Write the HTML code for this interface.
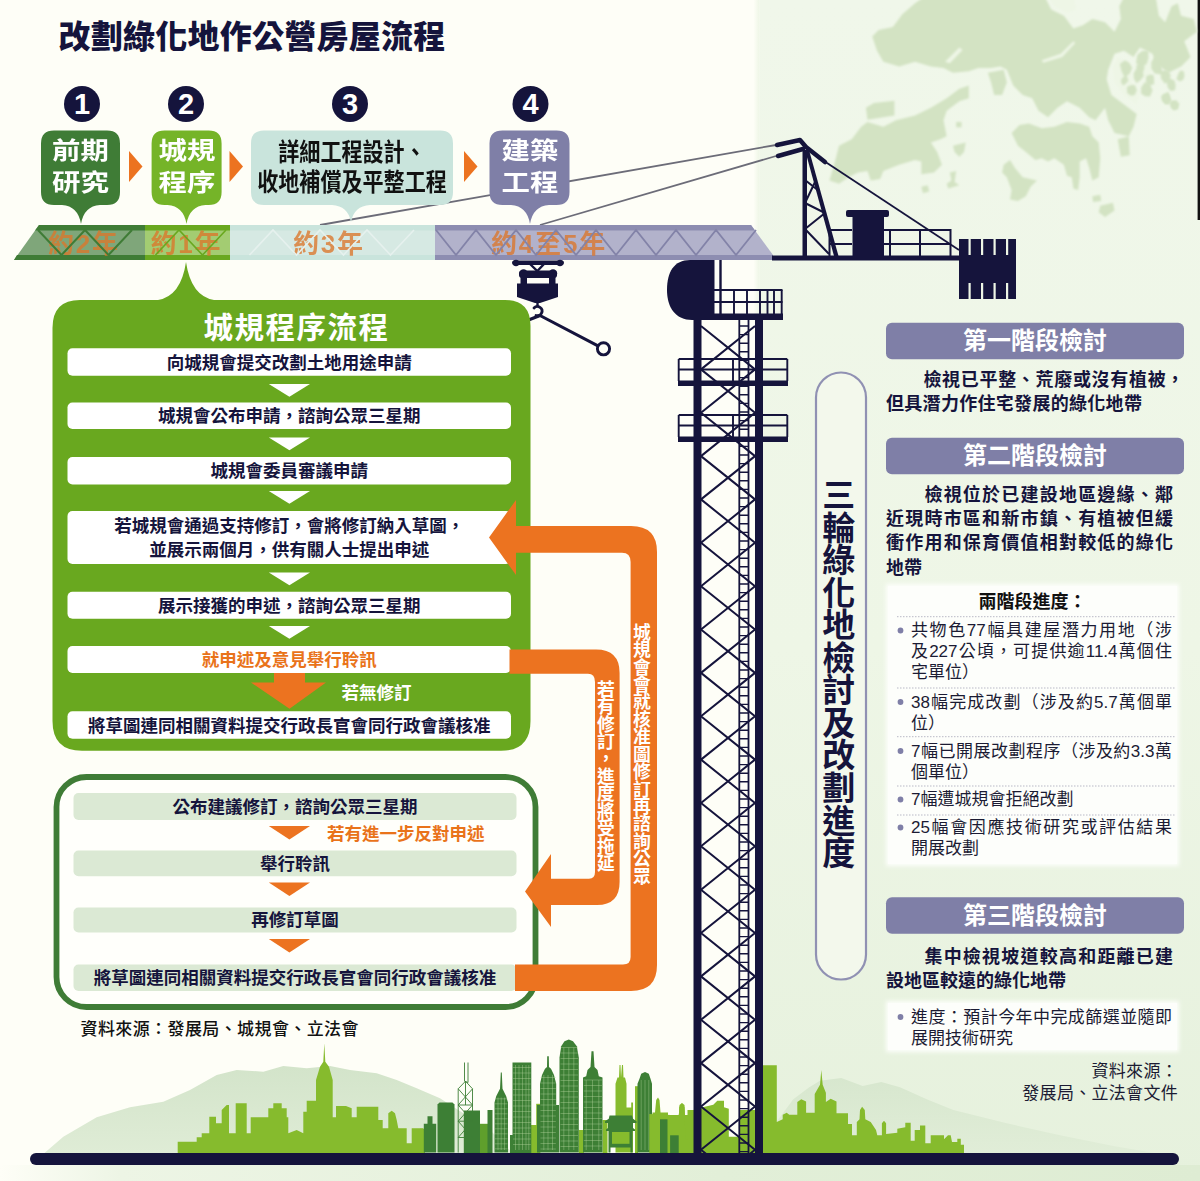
<!DOCTYPE html>
<html lang="zh-Hant">
<head>
<meta charset="utf-8">
<title>改劃綠化地作公營房屋流程</title>
<style>
html,body{margin:0;padding:0;}
body{width:1200px;height:1181px;position:relative;overflow:hidden;background:#fefef7;font-family:"Liberation Sans","Noto Sans CJK TC",sans-serif;color:#15143c;}
svg.g{position:absolute;left:0;top:0;}
.t{position:absolute;white-space:nowrap;line-height:1;}
.b{font-weight:700;}
.c{text-align:center;}

</style>
</head>
<body>
<svg class="g" width="1200" height="1181" viewBox="0 0 1200 1181">
<!-- background -->
<defs><linearGradient id="edgeg" x1="0" x2="1" y1="0" y2="0"><stop offset="0" stop-color="#fefef7"/><stop offset="1" stop-color="#eef6e6"/></linearGradient></defs>
<rect x="753.5" y="0" width="6" height="1181" fill="url(#edgeg)"/>
<defs><linearGradient id="pang" x1="0" x2="0" y1="0" y2="1"><stop offset="0" stop-color="#f0f7ea"/><stop offset="0.55" stop-color="#eef6e6"/><stop offset="1" stop-color="#e6f1dd"/></linearGradient></defs>
<rect x="759.4" y="0" width="441" height="1181" fill="url(#pang)"/>
<defs><linearGradient id="bandg" x1="0" x2="1" y1="0" y2="0"><stop offset="0" stop-color="#fefef7"/><stop offset="0.1" stop-color="#edf5e5"/><stop offset="0.6" stop-color="#e2efd8"/><stop offset="1" stop-color="#deecd3"/></linearGradient></defs>
<rect x="0" y="1165" width="1200" height="16" fill="url(#bandg)"/>
<rect x="1197.6" y="0" width="2.4" height="220" fill="#111"/>
<!-- map -->
<defs><filter id="soft" x="-5%" y="-5%" width="110%" height="110%"><feGaussianBlur stdDeviation="3.5"/></filter></defs>
<g transform="translate(820,0) scale(0.3167)" fill="#d3e3c3" filter="url(#soft)">
<polygon points="165,115 185,95 230,85 260,45 300,10 330,-10 710,-10 730,30 770,50 800,90 830,80 860,60 900,70 930,100 950,60 945,20 960,-10 1060,-10 1070,50 1090,70 1110,20 1130,10 1140,50 1180,60 1190,100 1150,130 1170,180 1140,210 1100,230 1060,200 1050,170 1010,150 990,180 960,160 930,170 910,220 905,250 920,300 960,330 1000,360 990,400 975,430 930,420 910,380 900,340 870,380 850,370 820,340 780,320 750,340 720,370 690,350 670,310 640,300 610,270 590,220 570,210 540,215 500,215 470,225 420,230 390,215 350,210 300,195 250,210 200,195 180,160" />
<polygon points="30,570 50,500 60,460 100,440 130,400 150,385 200,400 240,380 300,365 350,340 400,310 440,280 470,270 470,310 440,320 400,350 390,380 400,430 380,440 350,450 370,480 385,520 360,545 320,550 320,510 300,505 250,520 200,540 190,565 160,570 150,540 120,545 90,560 60,580" />
<polygon points="145,340 170,325 235,318 235,365 150,378" />
<polygon points="605,420 630,395 660,390 700,405 740,400 780,385 820,390 850,400 860,430 880,450 885,500 880,560 860,570 850,530 840,500 820,510 820,560 815,600 800,595 795,560 780,555 770,520 740,500 720,510 700,500 680,505 650,480 625,460" />
<polygon points="580,520 600,505 615,530 640,560 685,570 665,590 650,620 625,635 600,630 605,600 590,560 575,545" />
<polygon points="530,230 580,220 590,260 575,300 550,300 540,260" />
<polygon points="885,650 925,640 930,665 900,685 880,670" />
<polygon points="410,545 430,540 425,575 440,585 405,595 400,580 415,570" />
<polygon points="420,460 460,450 455,480 440,495 425,480" />
<polygon points="430,385 447,385 447,402 430,402" />
<polygon points="940,440 975,430 978,490 950,495" />
<polygon points="320,590 340,585 345,605 325,610" />
<polygon points="860,620 885,615 888,635 862,638" />
<polygon points="1080,300 1100,290 1110,320 1090,330" />
<polygon points="1110,320 1135,325 1130,345 1112,340" />
</g>
<g transform="translate(820,0) scale(0.3167)" fill="#eef6e6" filter="url(#soft)">
<polygon points="395,195 440,150 450,158 410,200" />
<polygon points="700,190 760,170 800,130 806,136 765,180 705,198" />
<polygon points="720,-10 800,-10 810,30 780,40 740,20" />
<polygon points="940,180 975,200 985,260 1010,290 1000,330 960,300 930,260 925,210" />
<polygon points="1000,170 1040,190 1045,230 1020,250 995,220" />
</g>
<g transform="translate(820,0) scale(0.3167)" fill="#d3e3c3" filter="url(#soft)">
<polygon points="986,215 978,232 962,245 952,224 947,202 963,190 977,199" />
<polygon points="1022,240 1011,254 999,263 991,248 990,232 999,217 1017,217" />
<polygon points="1037,185 1031,202 1016,212 998,199 1002,173 1017,161 1037,159" />
<polygon points="1079,206 1080,235 1057,232 1046,216 1046,196 1057,180 1079,178" />
<polygon points="1107,238 1104,258 1088,264 1077,248 1075,227 1089,221 1101,224" />
<polygon points="1123,268 1121,285 1107,287 1098,276 1095,259 1107,249 1119,254" />
<polygon points="1050,286 1042,305 1027,304 1014,296 1014,276 1025,260 1042,266" />
<polygon points="1104,313 1103,331 1090,327 1080,320 1077,304 1090,299 1101,299" />
<polygon points="1128,331 1128,345 1116,349 1107,338 1105,322 1117,317 1128,317" />
<polygon points="1000,285 994,300 982,302 970,294 969,275 982,268 995,269" />
<polygon points="1055,250 1055,266 1042,269 1029,260 1030,241 1042,235 1053,237" />
<polygon points="974,255 966,264 957,270 951,261 951,250 958,243 969,240" />
<polygon points="1151,240 1147,252 1137,257 1125,250 1131,234 1137,223 1149,225" />
<polygon points="1025,215 1019,230 1007,234 1000,221 999,208 1007,201 1020,199" />
</g>
<!-- skyline -->
<defs><linearGradient id="mg" x1="0" x2="0" y1="0" y2="1"><stop offset="0" stop-color="#d3e4ca"/><stop offset="1" stop-color="#dfecd6"/></linearGradient></defs>
<polygon points="43.3,1154.0 63.3,1136.7 96.7,1117.3 130.0,1107.3 163.3,1101.7 190.0,1090.0 216.7,1075.0 236.7,1070.0 263.3,1071.7 283.3,1066.0 306.7,1068.3 330.0,1066.0 350.0,1070.0 376.7,1073.3 396.7,1080.0 416.7,1088.3 440.0,1098.3 463.3,1113.3 490.0,1130.0 513.3,1154.0" fill="url(#mg)"/>
<polygon points="761.3,1153.2 777.3,1120.7 793.3,1099.3 809.3,1087.3 820.0,1080.7 841.3,1078.0 862.7,1086.0 881.3,1082.0 900.0,1087.3 926.7,1099.3 953.3,1110.0 1006.7,1123.3 1060.0,1135.3 1113.3,1146.0 1156.0,1153.2" fill="url(#mg)" opacity=".8"/>
<polygon points="177.7,1154.0 177.7,1141.7 196.7,1141.7 196.7,1137.3 201.7,1137.3 201.7,1133.3 209.3,1133.3 209.3,1116.7 216.0,1116.7 216.0,1123.3 221.7,1123.3 221.7,1110.0 226.7,1105.0 229.0,1105.0 229.0,1133.3 235.7,1133.3 235.7,1103.3 246.7,1103.3 246.7,1133.3 250.7,1133.3 250.7,1117.3 268.3,1117.3 268.3,1108.3 273.3,1108.3 273.3,1103.3 281.7,1103.3 281.7,1108.3 286.7,1108.3 286.7,1117.3 288.3,1117.3 288.3,1133.3 296.7,1130.0 303.3,1133.3 303.3,1111.7 306.7,1111.7 306.7,1100.7 316.0,1100.7 316.0,1080.0 320.0,1066.7 323.3,1061.7 324.3,1043.3 325.3,1061.7 329.0,1066.7 332.7,1080.0 332.7,1117.3 336.0,1117.3 336.0,1106.0 346.0,1106.0 351.7,1108.3 351.7,1117.3 356.7,1117.3 356.7,1106.7 378.3,1106.7 378.3,1120.0 382.7,1120.0 382.7,1128.3 388.3,1128.3 388.3,1113.3 391.7,1110.7 395.0,1113.3 396.7,1120.0 398.3,1128.3 406.7,1128.3 406.7,1143.3 411.7,1143.3 411.7,1128.3 423.3,1128.3 423.3,1154.0" fill="#86bb2d"/>
<rect x="420.0" y="1128.8" width="5.0" height="24.2" fill="#86bb2d"/>
<rect x="480.0" y="1123.8" width="8.0" height="29.2" fill="#5f9f2c"/>
<rect x="530.0" y="1125.0" width="7.0" height="28.0" fill="#86bb2d"/>
<rect x="536.2" y="1103.8" width="4.2" height="49.2" fill="#86bb2d"/>
<rect x="578.8" y="1130.0" width="5.0" height="23.0" fill="#86bb2d"/>
<rect x="602.5" y="1120.0" width="5.0" height="33.0" fill="#86bb2d"/>
<polygon points="615.5,1152.5 615.5,1083.8 617.5,1077.5 619.0,1077.5 619.5,1065.0 620.5,1065.0 621.0,1077.5 622.0,1065.0 623.0,1065.0 623.5,1077.5 625.0,1077.5 626.5,1083.8 626.5,1107.5 631.2,1107.5 631.2,1102.5 633.0,1102.5 633.0,1152.5" fill="#86bb2d"/>
<polygon points="652.5,1152.5 652.5,1112.5 655.0,1112.5 656.2,1100.0 658.0,1097.5 659.5,1100.0 660.5,1112.5 668.0,1112.5 668.0,1115.0 678.8,1115.0 679.5,1105.0 682.0,1103.0 684.5,1105.0 685.0,1115.0 687.5,1115.0 687.5,1110.0 693.0,1110.0 693.0,1152.5" fill="#86bb2d"/>
<rect x="635.0" y="1086.2" width="3.0" height="66.8" fill="#86bb2d"/>
<polygon points="423.8,1152.5 423.8,1123.8 427.5,1123.8 427.5,1116.2 432.5,1116.2 432.5,1123.8 436.2,1123.8 436.2,1152.5" fill="#3d7f35"/>
<polygon points="437.5,1152.5 437.5,1104.5 439.5,1102.5 452.5,1102.5 454.5,1104.5 454.5,1152.5" fill="#3d7f35"/>
<rect x="463.8" y="1110.5" width="16.2" height="42.5" fill="#3d7f35"/>
<rect x="487.5" y="1110.0" width="5.0" height="43.0" fill="#3d7f35"/>
<g stroke="#3d7f35" stroke-width="0.9" fill="none">
<path d="M458.2 1088.8 L458.2 1152.5 M472.5 1088.8 L472.5 1152.5 M458.2 1088.8 L465.5 1081.2 M472.5 1088.8 L465.5 1081.2 M464.5 1081.2 L464.5 1062.5 M468.0 1082.5 L468.0 1062.5 M464.5 1081.2 L468.0 1082.5 M458.2 1088.8 L472.5 1105.0 M472.5 1088.8 L458.2 1105.0 M458.2 1105.0 L472.5 1121.2 M472.5 1105.0 L458.2 1121.2 M458.2 1121.2 L472.5 1137.5 M472.5 1121.2 L458.2 1137.5 M458.2 1105.0 L472.5 1105.0 M458.2 1121.2 L472.5 1121.2 M458.2 1137.5 L472.5 1137.5 M465.5 1081.2 L465.5 1105.0"/>
</g>
<polygon points="494.5,1152.5 494.5,1102.5 496.2,1096.2 500.0,1088.8 500.8,1072.5 501.8,1072.5 502.5,1088.8 506.2,1096.2 508.0,1102.5 508.0,1152.5" fill="#3d7f35"/>
<rect x="512.5" y="1062.5" width="18.8" height="90.5" fill="#3d7f35"/>
<rect x="510.0" y="1135.0" width="3.0" height="18.0" fill="#3d7f35"/>
<polygon points="537.0,1152.5 537.0,1105.0 540.0,1105.0 540.0,1083.8 542.0,1075.0 545.0,1068.8 547.0,1067.0 547.2,1056.2 548.8,1056.2 549.0,1067.0 551.0,1068.8 554.0,1075.0 556.2,1083.8 556.2,1105.0 559.0,1105.0 559.0,1152.5" fill="#3d7f35"/>
<polygon points="559.5,1152.5 559.5,1057.5 561.2,1046.2 564.5,1041.2 568.8,1039.5 573.0,1041.2 576.8,1046.2 578.8,1057.5 578.8,1152.5" fill="#3d7f35"/>
<polygon points="583.0,1152.5 583.0,1077.5 586.2,1076.2 587.5,1070.0 590.5,1067.0 591.5,1051.2 593.5,1051.2 594.5,1067.0 597.5,1070.0 598.8,1076.2 602.5,1077.5 602.5,1152.5" fill="#3d7f35"/>
<polygon points="637.5,1152.5 637.5,1083.8 639.5,1078.8 641.2,1073.8 645.0,1072.0 648.8,1073.8 650.5,1078.8 652.0,1083.8 652.0,1152.5" fill="#3d7f35"/>
<polygon points="605.0,1121.2 608.8,1118.8 609.5,1115.5 632.0,1115.5 633.0,1118.8 636.5,1121.2 636.5,1123.0 633.0,1123.0 633.0,1128.0 635.0,1129.5 635.0,1131.0 632.5,1131.0 632.5,1152.5 630.5,1152.5 630.5,1147.5 610.5,1147.5 610.5,1152.5 608.5,1152.5 608.5,1131.0 606.0,1131.0 606.0,1129.5 608.0,1128.0 608.0,1123.0 605.0,1123.0" fill="#3d7f35"/>
<rect x="612.0" y="1132.0" width="17.5" height="11.8" fill="#86bb2d"/>
<rect x="653.8" y="1118.8" width="13.8" height="34.2" fill="#3d7f35"/>
<rect x="670.0" y="1135.0" width="8.8" height="18.0" fill="#3d7f35"/>
<g stroke="#b9d9a0" stroke-width="0.5" opacity=".75">
<path d="M515.5 1065.0 L515.5 1150.0 M519.0 1065.0 L519.0 1150.0 M522.5 1065.0 L522.5 1150.0 M526.0 1065.0 L526.0 1150.0 M528.8 1065.0 L528.8 1150.0 M513.0 1067.5 L530.8 1067.5 M513.0 1073.0 L530.8 1073.0 M513.0 1078.5 L530.8 1078.5 M513.0 1084.0 L530.8 1084.0 M513.0 1089.5 L530.8 1089.5 M513.0 1095.0 L530.8 1095.0 M513.0 1100.5 L530.8 1100.5 M513.0 1106.0 L530.8 1106.0 M513.0 1111.5 L530.8 1111.5 M513.0 1117.0 L530.8 1117.0 M513.0 1122.5 L530.8 1122.5 M513.0 1128.0 L530.8 1128.0 M513.0 1133.5 L530.8 1133.5 M513.0 1139.0 L530.8 1139.0 M513.0 1144.5 L530.8 1144.5 M563.8 1047.5 L563.8 1150.0 M568.8 1047.5 L568.8 1150.0 M573.8 1047.5 L573.8 1150.0 M560.5 1047.5 L578.0 1047.5 M560.5 1053.0 L578.0 1053.0 M560.5 1058.5 L578.0 1058.5 M560.5 1064.0 L578.0 1064.0 M560.5 1069.5 L578.0 1069.5 M560.5 1075.0 L578.0 1075.0 M560.5 1080.5 L578.0 1080.5 M560.5 1086.0 L578.0 1086.0 M560.5 1091.5 L578.0 1091.5 M560.5 1097.0 L578.0 1097.0 M560.5 1102.5 L578.0 1102.5 M560.5 1108.0 L578.0 1108.0 M560.5 1113.5 L578.0 1113.5 M560.5 1119.0 L578.0 1119.0 M560.5 1124.5 L578.0 1124.5 M560.5 1130.0 L578.0 1130.0 M560.5 1135.5 L578.0 1135.5 M560.5 1141.0 L578.0 1141.0 M560.5 1146.5 L578.0 1146.5 M586.2 1080.0 L586.2 1150.0 M592.5 1080.0 L592.5 1150.0 M598.8 1080.0 L598.8 1150.0 M583.8 1080.0 L602.0 1080.0 M583.8 1085.5 L602.0 1085.5 M583.8 1091.0 L602.0 1091.0 M583.8 1096.5 L602.0 1096.5 M583.8 1102.0 L602.0 1102.0 M583.8 1107.5 L602.0 1107.5 M583.8 1113.0 L602.0 1113.0 M583.8 1118.5 L602.0 1118.5 M583.8 1124.0 L602.0 1124.0 M583.8 1129.5 L602.0 1129.5 M583.8 1135.0 L602.0 1135.0 M583.8 1140.5 L602.0 1140.5 M583.8 1146.0 L602.0 1146.0 M543.8 1075.0 L543.8 1150.0 M548.0 1075.0 L548.0 1150.0 M552.5 1075.0 L552.5 1150.0 M540.5 1077.5 L555.8 1077.5 M540.5 1083.0 L555.8 1083.0 M540.5 1088.5 L555.8 1088.5 M540.5 1094.0 L555.8 1094.0 M540.5 1099.5 L555.8 1099.5 M540.5 1105.0 L555.8 1105.0 M540.5 1110.5 L555.8 1110.5 M540.5 1116.0 L555.8 1116.0 M540.5 1121.5 L555.8 1121.5 M540.5 1127.0 L555.8 1127.0 M540.5 1132.5 L555.8 1132.5 M540.5 1138.0 L555.8 1138.0 M540.5 1143.5 L555.8 1143.5 M540.5 1149.0 L555.8 1149.0 M498.0 1097.5 L498.0 1150.0 M501.2 1097.5 L501.2 1150.0 M504.5 1097.5 L504.5 1150.0 M495.0 1098.8 L507.5 1098.8 M495.0 1103.8 L507.5 1103.8 M495.0 1108.8 L507.5 1108.8 M495.0 1113.8 L507.5 1113.8 M495.0 1118.8 L507.5 1118.8 M495.0 1123.8 L507.5 1123.8 M495.0 1128.8 L507.5 1128.8 M495.0 1133.8 L507.5 1133.8 M495.0 1138.8 L507.5 1138.8 M495.0 1143.8 L507.5 1143.8 M495.0 1148.8 L507.5 1148.8 M641.2 1080.0 L641.2 1150.0 M645.0 1080.0 L645.0 1150.0 M648.8 1080.0 L648.8 1150.0" fill="none"/>
</g>
<polygon points="649.3,1153.7 649.3,1114.0 676.0,1115.3 679.2,1114.8 679.2,1107.3 681.9,1103.3 684.5,1107.3 685.3,1139.3 688.0,1139.3 688.0,1110.0 693.3,1110.0 702.7,1107.3 713.3,1104.7 717.3,1100.7 724.0,1100.7 724.0,1107.3 728.8,1108.7 728.8,1136.7 740.0,1136.7 740.0,1110.0 754.7,1110.0 762.7,1110.0 762.7,1065.2 776.8,1065.2 776.8,1122.0 782.7,1119.3 782.7,1114.8 786.7,1112.7 789.3,1114.8 797.3,1114.8 797.3,1102.0 801.3,1099.3 806.1,1101.5 806.1,1112.7 814.7,1112.7 814.7,1094.0 820.0,1084.7 821.3,1070.0 822.7,1084.7 825.9,1092.7 825.9,1102.0 830.7,1098.8 836.5,1101.5 836.5,1113.2 848.0,1113.2 848.0,1123.9 852.0,1123.9 852.0,1135.3 856.8,1135.3 856.8,1122.0 859.5,1119.3 860.0,1110.0 862.1,1106.8 864.8,1110.0 865.3,1119.3 870.7,1122.0 876.0,1130.0 877.3,1135.3 881.9,1135.3 881.9,1123.3 884.0,1120.7 886.1,1123.3 886.1,1134.0 897.3,1132.7 897.3,1128.7 905.3,1127.3 905.3,1122.8 910.7,1122.8 910.7,1140.7 914.7,1140.7 914.7,1130.0 920.0,1130.0 920.0,1125.5 925.3,1125.5 925.3,1143.3 930.7,1143.3 930.7,1135.3 944.0,1135.3 944.0,1139.3 948.0,1135.3 950.7,1135.3 952.0,1142.0 957.3,1142.0 957.3,1138.8 960.8,1138.8 960.8,1144.7 964.0,1144.7 964.0,1153.7" fill="#86bb2d"/>
<polygon points="660.0,1153.7 660.0,1119.3 667.5,1119.3 667.5,1153.7" fill="#3d7f35"/>
<polygon points="670.1,1153.7 670.1,1135.3 678.7,1135.3 678.7,1153.7" fill="#3d7f35"/>
<!-- crane -->
<g stroke="#6c6c78" stroke-width="1.8" fill="none">
<line x1="320" y1="225" x2="776" y2="145"/>
<line x1="540" y1="225" x2="776" y2="156"/>
</g>
<g>
<polygon points="39,225 145,225 145,260 14,260" fill="#7fa67a"/>
<polygon points="39,225 145,225 145,230.5 35,230.5" fill="#3f7c36"/>
<polygon points="17,255 145,255 145,260 14,260" fill="#3f7c36"/>
<rect x="145" y="225" width="85" height="35" fill="#a3cc72"/>
<rect x="145" y="225" width="85" height="5.5" fill="#69a81f"/>
<rect x="145" y="255" width="85" height="5" fill="#69a81f"/>
<rect x="230" y="225" width="205" height="35" fill="#d6e9e3"/>
<rect x="230" y="225" width="205" height="5.5" fill="#c9e4dc"/>
<rect x="230" y="255" width="205" height="5" fill="#c9e4dc"/>
<polygon points="435,225 751,225 773,255 773,260 435,260" fill="#b2b2cb"/>
<polygon points="435,225 751,225 755,230.5 435,230.5" fill="#8d8db1"/>
<polygon points="435,255 773,255 773,260 435,260" fill="#8d8db1"/>
<text x="84" y="252.8" text-anchor="middle" font-family="Liberation Sans, Noto Sans CJK TC, sans-serif" font-weight="700" font-size="26" letter-spacing="1.8" fill="#dc772b" opacity=".78">約2年</text>
<text x="186.5" y="252.8" text-anchor="middle" font-family="Liberation Sans, Noto Sans CJK TC, sans-serif" font-weight="700" font-size="26" letter-spacing="1.8" fill="#dc772b" opacity=".78">約1年</text>
<text x="329" y="252.8" text-anchor="middle" font-family="Liberation Sans, Noto Sans CJK TC, sans-serif" font-weight="700" font-size="26" letter-spacing="1.8" fill="#dc772b" opacity=".78">約3年</text>
<text x="549" y="252.8" text-anchor="middle" font-family="Liberation Sans, Noto Sans CJK TC, sans-serif" font-weight="700" font-size="26" letter-spacing="1.8" fill="#dc772b" opacity=".78">約4至5年</text>
<polyline points="38.0,230 61.5,255 85.0,230 108.5,255 132.0,230" fill="none" stroke="#3f7c36" stroke-width="2"/>
<polyline points="155.5,255 179.0,230 202.5,255 226.0,230" fill="none" stroke="#69a81f" stroke-width="1.6"/>
<polyline points="249.5,255 273.0,230 296.5,255 320.0,230 343.5,255 367.0,230 390.5,255 414.0,230" fill="none" stroke="#e6f1ee" stroke-width="1.6"/>
<polyline points="436.0,230 456.0,255 476.0,230 496.0,255 516.0,230 536.0,255 556.0,230 576.0,255 596.0,230 616.0,255 636.0,230 656.0,255 676.0,230 696.0,255 716.0,230 736.0,255 756.0,230" fill="none" stroke="#8383a8" stroke-width="1.8"/>
</g>
<g fill="#15143c" stroke="none">
<rect x="772" y="255.5" width="188" height="5"/>
<rect x="802.5" y="150" width="4.5" height="107"/>
<polygon points="805,150 809,150 838.5,256 834,256"/>
<rect x="852.5" y="214" width="31.5" height="43"/>
<path d="M848 210 h39 a2 2 0 0 1 2 2 v3 a2 2 0 0 1 -2 2 h-39 a2 2 0 0 1 -2 -2 v-3 a2 2 0 0 1 2 -2z"/>
<rect x="959" y="239" width="57" height="60"/>
</g>
<g fill="#eef6e6">
<rect x="968.5" y="238" width="2.2" height="17"/>
<rect x="968.5" y="283" width="2.2" height="17"/>
<rect x="981" y="238" width="2.2" height="17"/>
<rect x="981" y="283" width="2.2" height="17"/>
<rect x="993.5" y="238" width="2.2" height="17"/>
<rect x="993.5" y="283" width="2.2" height="17"/>
<rect x="1006" y="238" width="2.2" height="17"/>
<rect x="1006" y="283" width="2.2" height="17"/>
</g>
<g stroke="#15143c" fill="none">
<path d="M805 180 L819 191 M805 203 L825 213 M805 203 L816 180 M805 229 L825 213 M805 229 L829 254 " stroke-width="2"/>
<path d="M829 230 H852 M884 230 H951 M829 244 H852 M884 244 H951" stroke-width="2"/>
<path d="M829.5 230 V256 M890 230 V256 M920 230 V256 M950.5 229 V256" stroke-width="2"/>
<line x1="824" y1="161" x2="959" y2="250" stroke-width="1.8"/>
<path d="M777 145 L800 140 L806 147 L825 162" stroke-width="4.5" stroke-linejoin="round" stroke-linecap="round"/>
<path d="M778 156 L803 149" stroke-width="4.5" stroke-linecap="round"/>
</g>
<g fill="#15143c">
<path d="M714.5 260 H690 C674 260 667 272 667 290 C667 308 676 320 692 320 H714.5 Z"/>
<rect x="714" y="313.5" width="69" height="6.5"/>
</g>
<g stroke="#15143c" fill="none" stroke-width="1.9">
<path d="M720.5 260 V314" stroke-width="2.4"/>
<path d="M714 290 H782.5 M714 302 H782.5"/>
<path d="M734 290 V314 M747 290 V314 M760 290 V314 M767.5 290 V314 M774 290 V314 M781.7 290 V314"/>
</g>
<g fill="#15143c">
<rect x="693.5" y="318" width="8" height="842"/>
<rect x="755" y="318" width="8" height="842"/>
<rect x="678" y="380.5" width="110" height="5.5"/>
<rect x="678" y="436.5" width="110" height="5.5"/>
</g>
<g stroke="#15143c" fill="none" stroke-width="1.9">
<path d="M678.7 359 H787.3 M678.7 369.5 H787.3 M678.7 359 V381 M787.3 359 V381 M733 359 V381"/>
<path d="M678.7 415 H787.3 M678.7 425.5 H787.3 M678.7 415 V437 M787.3 415 V437 M733 415 V437"/>
</g>
<g stroke="#15143c" fill="none" stroke-width="2">
<path d="M701 326.0 L755.0 369.4 M755 326.0 L701.0 369.4 M701 369.4 L755.0 412.7 M755 369.4 L701.0 412.7 M701 412.7 L755.0 456.1 M755 412.7 L701.0 456.1 M701 456.1 L755.0 499.4 M755 456.1 L701.0 499.4 M701 499.4 L755.0 542.8 M755 499.4 L701.0 542.8 M701 542.8 L755.0 586.2 M755 542.8 L701.0 586.2 M701 586.2 L755.0 629.5 M755 586.2 L701.0 629.5 M701 629.5 L755.0 672.9 M755 629.5 L701.0 672.9 M701 672.9 L755.0 716.2 M755 672.9 L701.0 716.2 M701 716.2 L755.0 759.6 M755 716.2 L701.0 759.6 M701 759.6 L755.0 803.0 M755 759.6 L701.0 803.0 M701 803.0 L755.0 846.3 M755 803.0 L701.0 846.3 M701 846.3 L755.0 889.7 M755 846.3 L701.0 889.7 M701 889.7 L755.0 933.0 M755 889.7 L701.0 933.0 M701 933.0 L755.0 976.4 M755 933.0 L701.0 976.4 M701 976.4 L755.0 1019.8 M755 976.4 L701.0 1019.8 M701 1019.8 L755.0 1063.1 M755 1019.8 L701.0 1063.1 M701 1063.1 L755.0 1106.5 M755 1063.1 L701.0 1106.5 M701 1106.5 L755.0 1149.8 M755 1106.5 L701.0 1149.8 M701 1149.8 L711.2 1158.0 M755 1149.8 L744.8 1158.0"/>
</g>
<g stroke="#15143c" fill="none" stroke-width="1.5">
<path d="M739.3 320 V1158 M748.5 320 V1158" stroke-width="1.8"/>
<path d="M739.5 326.0 H748.3 M739.5 334.6 H748.3 M739.5 343.2 H748.3 M739.5 351.8 H748.3 M739.5 360.4 H748.3 M739.5 369.0 H748.3 M739.5 377.6 H748.3 M739.5 386.2 H748.3 M739.5 394.8 H748.3 M739.5 403.4 H748.3 M739.5 412.0 H748.3 M739.5 420.6 H748.3 M739.5 429.2 H748.3 M739.5 437.8 H748.3 M739.5 446.4 H748.3 M739.5 455.0 H748.3 M739.5 463.6 H748.3 M739.5 472.2 H748.3 M739.5 480.8 H748.3 M739.5 489.4 H748.3 M739.5 498.0 H748.3 M739.5 506.6 H748.3 M739.5 515.2 H748.3 M739.5 523.8 H748.3 M739.5 532.4 H748.3 M739.5 541.0 H748.3 M739.5 549.6 H748.3 M739.5 558.2 H748.3 M739.5 566.8 H748.3 M739.5 575.4 H748.3 M739.5 584.0 H748.3 M739.5 592.6 H748.3 M739.5 601.2 H748.3 M739.5 609.8 H748.3 M739.5 618.4 H748.3 M739.5 627.0 H748.3 M739.5 635.6 H748.3 M739.5 644.2 H748.3 M739.5 652.8 H748.3 M739.5 661.4 H748.3 M739.5 670.0 H748.3 M739.5 678.6 H748.3 M739.5 687.2 H748.3 M739.5 695.8 H748.3 M739.5 704.4 H748.3 M739.5 713.0 H748.3 M739.5 721.6 H748.3 M739.5 730.2 H748.3 M739.5 738.8 H748.3 M739.5 747.4 H748.3 M739.5 756.0 H748.3 M739.5 764.6 H748.3 M739.5 773.2 H748.3 M739.5 781.8 H748.3 M739.5 790.4 H748.3 M739.5 799.0 H748.3 M739.5 807.6 H748.3 M739.5 816.2 H748.3 M739.5 824.8 H748.3 M739.5 833.4 H748.3 M739.5 842.0 H748.3 M739.5 850.6 H748.3 M739.5 859.2 H748.3 M739.5 867.8 H748.3 M739.5 876.4 H748.3 M739.5 885.0 H748.3 M739.5 893.6 H748.3 M739.5 902.2 H748.3 M739.5 910.8 H748.3 M739.5 919.4 H748.3 M739.5 928.0 H748.3 M739.5 936.6 H748.3 M739.5 945.2 H748.3 M739.5 953.8 H748.3 M739.5 962.4 H748.3 M739.5 971.0 H748.3 M739.5 979.6 H748.3 M739.5 988.2 H748.3 M739.5 996.8 H748.3 M739.5 1005.4 H748.3 M739.5 1014.0 H748.3 M739.5 1022.6 H748.3 M739.5 1031.2 H748.3 M739.5 1039.8 H748.3 M739.5 1048.4 H748.3 M739.5 1057.0 H748.3 M739.5 1065.6 H748.3 M739.5 1074.2 H748.3 M739.5 1082.8 H748.3 M739.5 1091.4 H748.3 M739.5 1100.0 H748.3 M739.5 1108.6 H748.3 M739.5 1117.2 H748.3 M739.5 1125.8 H748.3 M739.5 1134.4 H748.3 M739.5 1143.0 H748.3 M739.5 1151.6 H748.3" stroke-width="1.4"/>
</g>
<g fill="#15143c">
<rect x="512" y="260.5" width="52" height="4.5" rx="2.2"/>
<circle cx="516" cy="263" r="3.2"/><circle cx="560" cy="263" r="3.2"/>
<rect x="519" y="270.5" width="38" height="7.5" rx="3"/>
<circle cx="523.5" cy="273.5" r="4.2"/><circle cx="553" cy="273.5" r="4.2"/>
<rect x="520.5" y="276" width="6.5" height="9"/><rect x="549" y="276" width="6.5" height="9"/>
<polygon points="517,283.5 558,283.5 558,297 540,303 535,303 517,297"/>
</g>
<g stroke="#15143c" fill="none" stroke-linecap="round">
<path d="M529 263 L537.3 271 L545 263" stroke-width="2.4"/>
<path d="M537.5 302 V306" stroke-width="2.4"/>
<path d="M534 308 A4.6 4.6 0 1 1 536 315.5" stroke-width="2.8"/>
<path d="M528.5 320 L540 315.5 L597.5 345.7" stroke-width="3.1" stroke-linejoin="round"/>
<circle cx="603.5" cy="348.8" r="6.1" stroke-width="2.9"/>
</g>
<rect x="30" y="1153" width="1149" height="12" rx="6" fill="#15143c"/>
<!-- flow panels -->
<path fill="#3f7c36" d="M54 130.4 H107 Q120 130.4 120 143.4 V192 Q120 205 107 205 H100 Q84 206 81 224 Q78 206 62 205 H54 Q41 205 41 192 V143.4 Q41 130.4 54 130.4 Z"/>
<path fill="#75b428" d="M164.6 130.4 H208.6 Q221.6 130.4 221.6 143.4 V192 Q221.6 205 208.6 205 H205.5 Q189.5 206 186.5 224 Q183.5 206 167.5 205 H164.6 Q151.6 205 151.6 192 V143.4 Q151.6 130.4 164.6 130.4 Z"/>
<path fill="#c9e4dc" d="M264 130.4 H440 Q453 130.4 453 143.4 V192 Q453 205 440 205 H370 Q354 206 351 222 Q348 206 332 205 H264 Q251 205 251 192 V143.4 Q251 130.4 264 130.4 Z"/>
<path fill="#7f7fa7" d="M502.5 130.4 H556.5 Q569.5 130.4 569.5 143.4 V192 Q569.5 205 556.5 205 H549 Q533 206 530 224 Q527 206 511 205 H502.5 Q489.5 205 489.5 192 V143.4 Q489.5 130.4 502.5 130.4 Z"/>
<circle cx="82" cy="104" r="18" fill="#15143c"/>
<circle cx="186" cy="104" r="18" fill="#15143c"/>
<circle cx="350" cy="104" r="18" fill="#15143c"/>
<circle cx="530.5" cy="104" r="18" fill="#15143c"/>
<polygon points="129,151 142.5,166.5 129,182" fill="#ec7320"/>
<polygon points="229.5,151 243.0,166.5 229.5,182" fill="#ec7320"/>
<polygon points="464,151 477.5,166.5 464,182" fill="#ec7320"/>
<path fill="#69a81f" d="M80 300 H158 Q181 296 186 262 Q191 296 214 300 H505 Q530.5 300 530.5 326 V721 Q530.5 750.8 501 750.8 H82 Q52.5 750.8 52.5 721 V328 Q52.5 300 80 300 Z"/>
<rect x="67.5" y="348.2" width="443.5" height="27.600000000000023" rx="5" fill="#fff"/>
<rect x="67.5" y="402.5" width="443.5" height="26.5" rx="5" fill="#fff"/>
<rect x="67.5" y="457" width="443.5" height="27.5" rx="5" fill="#fff"/>
<rect x="67.5" y="511" width="443.5" height="53" rx="5" fill="#fff"/>
<rect x="67.5" y="591.8" width="443.5" height="27.0" rx="5" fill="#fff"/>
<rect x="67.5" y="646" width="443.5" height="27" rx="5" fill="#fff"/>
<rect x="67.5" y="711.2" width="443.5" height="27.59999999999991" rx="5" fill="#fff"/>
<polygon points="268.8,384 310,384 289.4,396.8" fill="#fff"/>
<polygon points="268.8,437.5 310,437.5 289.4,450.3" fill="#fff"/>
<polygon points="268.8,491 310,491 289.4,503.8" fill="#fff"/>
<polygon points="268.8,572.5 310,572.5 289.4,585.3" fill="#fff"/>
<polygon points="268.8,626 310,626 289.4,638.8" fill="#fff"/>
<polygon points="274,673 305,673 305,682.5 326,682.5 289.5,708.8 251,682.5 274,682.5" fill="#ec7320"/>
<rect x="56.5" y="777" width="479" height="230" rx="30" fill="#fffffb" stroke="#3f7c36" stroke-width="5.8"/>
<rect x="73.5" y="793" width="443" height="27" rx="5" fill="#dbe9d4"/>
<rect x="73.5" y="850.5" width="443" height="25.700000000000045" rx="5" fill="#dbe9d4"/>
<rect x="73.5" y="907.5" width="443" height="25.0" rx="5" fill="#dbe9d4"/>
<rect x="73.5" y="964.6" width="443" height="26.399999999999977" rx="5" fill="#dbe9d4"/>
<polygon points="268.8,826 310,826 289.4,839.5" fill="#ec7320"/>
<polygon points="268.8,882.5 310,882.5 289.4,896.0" fill="#ec7320"/>
<polygon points="268.8,939 310,939 289.4,952.5" fill="#ec7320"/>
<path fill="#ec7320" d="M509.5 649.6 H596 Q619.6 649.6 619.6 673 V882 Q619.6 905 597 905 H551 V927 L525 891.5 L551 854 V878.7 H589 Q595 878.7 595 872 V682 Q595 673.8 588 673.8 H509.5 Z"/>
<path fill="#ec7320" d="M515 964.6 H623 Q630.6 964.6 630.6 957 V562 Q630.6 552.7 622 552.7 H516 V575 L489 537.5 L516 500 V526 H631 Q657 526 657 552 V965 Q657 991 631 991 H515 Z"/>
<!-- right panel shapes -->
<rect x="816" y="372.5" width="50" height="607" rx="25" fill="#f3f8ec" stroke="#9091b3" stroke-width="2.2"/>
<rect x="886" y="322.7" width="298" height="36.5" rx="6" fill="#7f7fa7"/>
<rect x="886" y="437.7" width="298" height="36.5" rx="6" fill="#7f7fa7"/>
<rect x="886" y="897.3" width="298" height="36.5" rx="6" fill="#7f7fa7"/>
<defs><filter id="feath" x="-5%" y="-10%" width="110%" height="120%"><feGaussianBlur stdDeviation="2"/></filter></defs>
<rect x="886" y="584" width="293" height="282" fill="#fdfefb" filter="url(#feath)"/>
<rect x="888" y="586" width="289" height="278" fill="#fdfefb"/>
<rect x="886" y="1001" width="293" height="51" fill="#fdfefb" filter="url(#feath)"/>
<rect x="888" y="1003" width="289" height="47" fill="#fdfefb"/>
<line x1="897" y1="616.7" x2="1175" y2="616.7" stroke="#b9b9c6" stroke-width="1" stroke-dasharray="1.5 1.5"/>
<line x1="897" y1="688" x2="1175" y2="688" stroke="#b9b9c6" stroke-width="1" stroke-dasharray="1.5 1.5"/>
<line x1="897" y1="736.7" x2="1175" y2="736.7" stroke="#b9b9c6" stroke-width="1" stroke-dasharray="1.5 1.5"/>
<line x1="897" y1="786" x2="1175" y2="786" stroke="#b9b9c6" stroke-width="1" stroke-dasharray="1.5 1.5"/>
<line x1="897" y1="815" x2="1175" y2="815" stroke="#b9b9c6" stroke-width="1" stroke-dasharray="1.5 1.5"/>
<circle cx="900.5" cy="630.5" r="2.9" fill="#7f7fa7"/>
<circle cx="900.5" cy="702" r="2.9" fill="#7f7fa7"/>
<circle cx="900.5" cy="751" r="2.9" fill="#7f7fa7"/>
<circle cx="900.5" cy="799.5" r="2.9" fill="#7f7fa7"/>
<circle cx="900.5" cy="827.5" r="2.9" fill="#7f7fa7"/>
<circle cx="900.5" cy="1017" r="2.9" fill="#7f7fa7"/>
</svg>
<div class="t " style="left:58.5px;top:21.0px;font-size:32px;font-weight:900;letter-spacing:.25px;">改劃綠化地作公營房屋流程</div>
<div class="t b" style="left:64.5px;top:89.5px;font-size:29px;width:35px;text-align:center;color:#fff;">1</div>
<div class="t b" style="left:168.5px;top:89.5px;font-size:29px;width:35px;text-align:center;color:#fff;">2</div>
<div class="t b" style="left:332.5px;top:89.5px;font-size:29px;width:35px;text-align:center;color:#fff;">3</div>
<div class="t b" style="left:513.0px;top:89.5px;font-size:29px;width:35px;text-align:center;color:#fff;">4</div>
<div class="t b" style="left:41px;top:139.2px;font-size:24.3px;width:79px;text-align:center;color:#fff;transform:scaleX(1.17);">前期</div>
<div class="t b" style="left:41px;top:171.0px;font-size:24.3px;width:79px;text-align:center;color:#fff;transform:scaleX(1.17);">研究</div>
<div class="t b" style="left:152px;top:139.2px;font-size:24.3px;width:70px;text-align:center;color:#fff;transform:scaleX(1.17);">城規</div>
<div class="t b" style="left:152px;top:171.0px;font-size:24.3px;width:70px;text-align:center;color:#fff;transform:scaleX(1.17);">程序</div>
<div class="t b" style="left:222px;top:141.2px;font-size:24.5px;width:260px;text-align:center;color:#111;transform:scaleX(.86);">詳細工程設計、</div>
<div class="t b" style="left:222px;top:170.8px;font-size:24.5px;width:260px;text-align:center;color:#111;transform:scaleX(.86);">收地補償及平整工程</div>
<div class="t b" style="left:489.5px;top:139.2px;font-size:24.3px;width:80px;text-align:center;color:#fff;transform:scaleX(1.17);">建築</div>
<div class="t b" style="left:489.5px;top:171.0px;font-size:24.3px;width:80px;text-align:center;color:#fff;transform:scaleX(1.17);">工程</div>
<div class="t b" style="left:57.5px;top:312.8px;font-size:29.5px;width:478px;text-align:center;color:#fff;letter-spacing:1.5px;">城規程序流程</div>
<div class="t b" style="left:67.5px;top:354.8px;font-size:17.5px;width:443.5px;text-align:center;color:#15143c;">向城規會提交改劃土地用途申請</div>
<div class="t b" style="left:67.5px;top:407.9px;font-size:17.5px;width:443.5px;text-align:center;color:#15143c;">城規會公布申請，諮詢公眾三星期</div>
<div class="t b" style="left:67.5px;top:462.9px;font-size:17.5px;width:443.5px;text-align:center;color:#15143c;">城規會委員審議申請</div>
<div class="t b" style="left:67.5px;top:517.9px;font-size:17.5px;width:443.5px;text-align:center;color:#15143c;">若城規會通過支持修訂，會將修訂納入草圖，</div>
<div class="t b" style="left:67.5px;top:542.0px;font-size:17.5px;width:443.5px;text-align:center;color:#15143c;">並展示兩個月，供有關人士提出申述</div>
<div class="t b" style="left:67.5px;top:597.8px;font-size:17.5px;width:443.5px;text-align:center;color:#15143c;">展示接獲的申述，諮詢公眾三星期</div>
<div class="t b" style="left:67.5px;top:652.2px;font-size:17.5px;width:443.5px;text-align:center;color:#e9731a;">就申述及意見舉行聆訊</div>
<div class="t b" style="left:67.5px;top:717.6px;font-size:17.5px;width:443.5px;text-align:center;color:#15143c;">將草圖連同相關資料提交行政長官會同行政會議核准</div>
<div class="t b" style="left:341.5px;top:685.2px;font-size:17.5px;color:#fff;">若無修訂</div>
<div class="t b" style="left:73.5px;top:799.0px;font-size:17.5px;width:443px;text-align:center;color:#15143c;">公布建議修訂，諮詢公眾三星期</div>
<div class="t b" style="left:73.5px;top:856.0px;font-size:17.5px;width:443px;text-align:center;color:#15143c;">舉行聆訊</div>
<div class="t b" style="left:73.5px;top:912.0px;font-size:17.5px;width:443px;text-align:center;color:#15143c;">再修訂草圖</div>
<div class="t b" style="left:73.5px;top:969.6px;font-size:17.5px;width:443px;text-align:center;color:#15143c;">將草圖連同相關資料提交行政長官會同行政會議核准</div>
<div class="t b" style="left:327px;top:825.8px;font-size:17.5px;color:#e9731a;">若有進一步反對申述</div>
<div class="t " style="left:80.5px;top:1020.5px;font-size:17px;font-weight:500;color:#111;letter-spacing:.4px;">資料來源：發展局、城規會、立法會</div>
<div class="t b" style="left:630.8px;top:623px;width:18px;font-size:17.8px;line-height:18px;letter-spacing:-.35px;color:#fff;writing-mode:vertical-rl;white-space:nowrap;">城規會會就核准圖修訂再諮詢公眾</div>
<div class="t b" style="left:594.8px;top:680px;width:18px;font-size:17.8px;line-height:18px;letter-spacing:-.35px;color:#fff;writing-mode:vertical-rl;white-space:nowrap;">若有修訂，進度將受拖延</div>
<div class="t b" style="left:818.8px;top:477.8px;width:34px;font-size:33px;line-height:34px;color:#15143c;writing-mode:vertical-rl;white-space:nowrap;letter-spacing:-.45px;">三輪綠化地檢討及改劃進度</div>
<div class="t b" style="left:886px;top:329.0px;font-size:24px;width:298px;text-align:center;color:#fff;">第一階段檢討</div>
<div class="t b" style="left:886px;top:444.0px;font-size:24px;width:298px;text-align:center;color:#fff;">第二階段檢討</div>
<div class="t b" style="left:886px;top:903.5px;font-size:24px;width:298px;text-align:center;color:#fff;">第三階段檢討</div>
<div style="position:absolute;left:886px;top:368px;width:280px;font-size:18px;line-height:24.2px;font-weight:700;color:#15143c;letter-spacing:.3px;"><div style="position:relative;white-space:nowrap;text-align:justify;text-align-last:justify;">　　檢視已平整、荒廢或沒有植被<span style="position:absolute;left:100%;">，</span></div><div style="position:relative;white-space:nowrap;text-align:left;">但具潛力作住宅發展的綠化地帶</div></div>
<div style="position:absolute;left:886px;top:483px;width:287px;font-size:18px;line-height:24.2px;font-weight:700;color:#15143c;"><div style="position:relative;white-space:nowrap;text-align:justify;text-align-last:justify;">　　檢視位於已建設地區邊緣、鄰</div><div style="position:relative;white-space:nowrap;text-align:justify;text-align-last:justify;">近現時市區和新市鎮、有植被但緩</div><div style="position:relative;white-space:nowrap;text-align:justify;text-align-last:justify;">衝作用和保育價值相對較低的綠化</div><div style="position:relative;white-space:nowrap;text-align:left;">地帶</div></div>
<div style="position:absolute;left:886px;top:945px;width:287px;font-size:18px;line-height:24.2px;font-weight:700;color:#15143c;"><div style="position:relative;white-space:nowrap;text-align:justify;text-align-last:justify;">　　集中檢視坡道較高和距離已建</div><div style="position:relative;white-space:nowrap;text-align:left;">設地區較遠的綠化地帶</div></div>
<div class="t b" style="left:885px;top:592.7px;font-size:18px;width:295px;text-align:center;color:#111;">兩階段進度：</div>
<div style="position:absolute;left:911px;top:620px;width:261px;font-size:17px;line-height:21px;color:#1b1b33;"><div style="position:relative;white-space:nowrap;text-align:justify;text-align-last:justify;">共物色77幅具建屋潛力用地（涉</div><div style="position:relative;white-space:nowrap;text-align:justify;text-align-last:justify;">及227公頃，可提供逾11.4萬個住</div><div style="position:relative;white-space:nowrap;text-align:left;">宅單位）</div></div>
<div style="position:absolute;left:911px;top:691.5px;width:261px;font-size:17px;line-height:21px;color:#1b1b33;"><div style="position:relative;white-space:nowrap;text-align:justify;text-align-last:justify;">38幅完成改劃（涉及約5.7萬個單</div><div style="position:relative;white-space:nowrap;text-align:left;">位）</div></div>
<div style="position:absolute;left:911px;top:740.5px;width:261px;font-size:17px;line-height:21px;color:#1b1b33;"><div style="position:relative;white-space:nowrap;text-align:justify;text-align-last:justify;">7幅已開展改劃程序（涉及約3.3萬</div><div style="position:relative;white-space:nowrap;text-align:left;">個單位）</div></div>
<div style="position:absolute;left:911px;top:789px;width:261px;font-size:17px;line-height:21px;color:#1b1b33;"><div style="position:relative;white-space:nowrap;text-align:left;">7幅遭城規會拒絕改劃</div></div>
<div style="position:absolute;left:911px;top:817px;width:261px;font-size:17px;line-height:21px;color:#1b1b33;"><div style="position:relative;white-space:nowrap;text-align:justify;text-align-last:justify;">25幅會因應技術研究或評估結果</div><div style="position:relative;white-space:nowrap;text-align:left;">開展改劃</div></div>
<div style="position:absolute;left:911px;top:1006.5px;width:261px;font-size:17px;line-height:21px;color:#1b1b33;"><div style="position:relative;white-space:nowrap;text-align:justify;text-align-last:justify;">進度：預計今年中完成篩選並隨即</div><div style="position:relative;white-space:nowrap;text-align:left;">展開技術研究</div></div>
<div style="position:absolute;left:886px;width:292px;top:1060.5px;font-size:17px;line-height:22px;letter-spacing:.3px;text-align:right;color:#1b1b33;">資料來源：<br>發展局、立法會文件</div>
</body>
</html>
